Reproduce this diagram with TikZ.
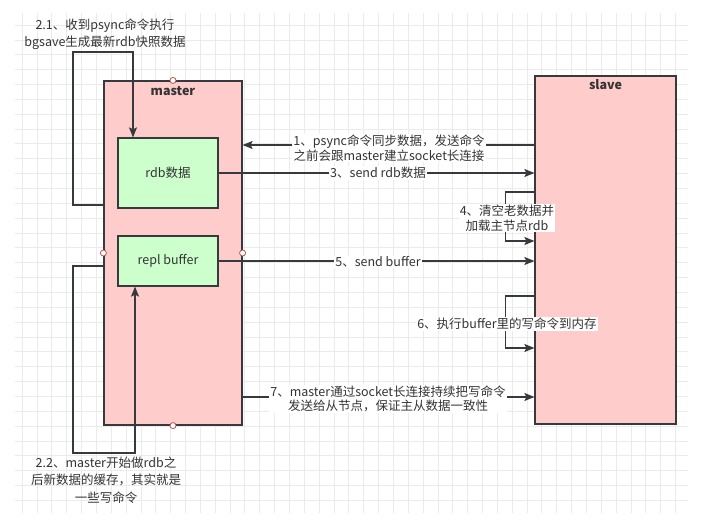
\documentclass[tikz,border=0pt]{standalone}
\usepackage{fontspec}
\setmainfont{Noto Sans CJK SC}
\usetikzlibrary{arrows.meta}
\definecolor{txt}{HTML}{333333}
\definecolor{pinkf}{HTML}{FFCCCC}
\definecolor{greenf}{HTML}{CCFFCC}
\definecolor{edgec}{HTML}{36393D}
\definecolor{gridc}{HTML}{EBEBEB}
\definecolor{dotc}{HTML}{B85450}
\begin{document}
\begin{tikzpicture}[x=1pt,y=-1pt,
  box/.style={draw=edgec, line width=1.2pt, inner sep=0pt, text=txt},
  bigbox/.style={box, fill=pinkf},
  inbox/.style={box, fill=greenf, minimum width=100pt, font=\fontsize{12.5}{15}\selectfont},
  arr/.style={draw=edgec, line width=1.3pt, -{Stealth[length=10pt,width=8pt,inset=2pt]}},
  elabel/.style={fill=white, text=txt, align=center, inner sep=1pt, font=\fontsize{12.5}{14.5}\selectfont},
  flabel/.style={text=txt, align=center, inner sep=0pt, font=\fontsize{12.5}{17.5}\selectfont},
  title/.style={text=txt, font=\bfseries\fontsize{12.5}{15}\selectfont},
  dot/.style={circle, draw=dotc, fill=white, line width=0.8pt, minimum size=6pt, inner sep=0pt}]
\useasboundingbox (0,0) rectangle (712,529);
% grid
\foreach \i in {0,...,44} \draw[gridc, line width=0.6pt] (22+\i*14.85,13) -- (22+\i*14.85,513);
\foreach \j in {0,...,32} \draw[gridc, line width=0.6pt] (15,25+\j*14.85) -- (688,25+\j*14.85);
% boxes
\node[bigbox, minimum width=138pt, minimum height=344pt] (master) at (173,253) {};
\node[bigbox, minimum width=141pt, minimum height=348pt] (slave) at (605.5,250) {};
\node[title] (mt) at (173,91) {master};
\node[title] (st) at (605.5,85) {slave};
\node[inbox, minimum height=70pt] (rdb) at (168,173) {rdb数据};
\node[inbox, minimum height=50pt] (repl) at (168,261) {repl buffer};
% helper coordinates
\coordinate (c21) at (73,52);
\coordinate (c22) at (73,453);
\coordinate (s1) at ([yshift=105pt]slave.west);
\coordinate (m7) at ([yshift=-144pt]master.east);
% connectors
\draw[arr] ([yshift=48pt]master.west) -| (c21) -| ([xshift=-35pt]rdb.north);
\draw[arr] ([yshift=-13pt]master.west) -| (c22) -| ([xshift=-33pt]repl.south);
\draw[arr] (s1) -- (s1 -| master.east);
\draw[arr] (rdb.east) -- (rdb.east -| slave.west);
\draw[arr] ([yshift=58pt]slave.west) -- ++(-29,0) |- ([yshift=9pt]slave.west);
\draw[arr] (repl.east) -- (repl.east -| slave.west);
\draw[arr] ([yshift=-46pt]slave.west) -- ++(-29,0) |- ([yshift=-98pt]slave.west);
\draw[arr] (m7) -- (m7 -| slave.west);
% labels
\node[elabel] (l1) at (389,148) {1、psync命令同步数据，发送命令\\之前会跟master建立socket长连接};
\node[elabel] (l3) at (378,173) {3、send rdb数据};
\node[elabel] (l4) at (507,218) {4、清空老数据并\\加载主节点rdb};
\node[elabel] (l5) at (378,262) {5、send buffer};
\node[elabel] (l6) at (507,324) {6、执行buffer里的写命令到内存};
\node[elabel] (l7) at (388,399) {7、master通过socket长连接持续把写命令\\发送给从节点，保证主从数据一致性};
\node[flabel] (l21) at (105,34) {2.1、收到psync命令执行\\bgsave生成最新rdb快照数据};
\node[flabel] (l22) at (106,480) {2.2、master开始做rdb之\\后新数据的缓存，其实就是\\一些写命令};
% connection points
\node[dot] (d1) at (master.north) {};
\node[dot] (d2) at (master.south) {};
\node[dot] (d3) at (master.west) {};
\node[dot] (d4) at (master.east) {};
\end{tikzpicture}
\end{document}
